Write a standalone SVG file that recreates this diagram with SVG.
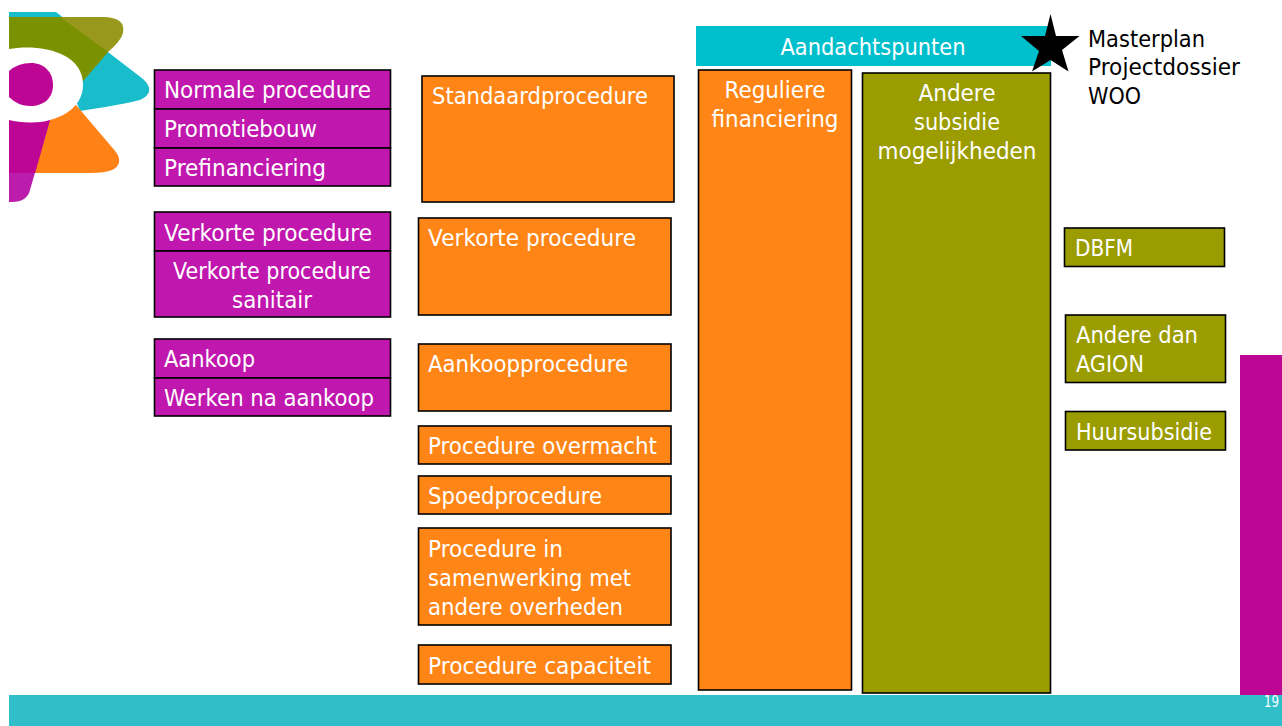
<svg xmlns="http://www.w3.org/2000/svg" width="1282" height="726" viewBox="0 0 1282 726">
<style>
text{font-family:"DejaVu Sans","Noto Sans",sans-serif;font-size:23px;fill:#fff}
.k{fill:#000}
.m{fill:#c017ae;stroke:#000;stroke-width:1.6}
.o{fill:#ff8516;stroke:#000;stroke-width:1.6}
.g{fill:#9a9c00;stroke:#000;stroke-width:1.6}
.c{text-anchor:middle}
</style>
<rect width="1282" height="726" fill="#fff"/>
<g id="logo">
<path d="M9 12H56L143 79Q157 92 140 100Q125 104 80 111L60 60L9 60Z" fill="#19bccb"/>
<path d="M76 105L116 152Q124 164 112 170Q105 173 90 173H33L40 120Z" fill="#ff8216"/>
<path d="M9 120H50L30 190Q27 202 12 202H9Z" fill="#bb1cac"/>
<path d="M9 120H50L35 173H9Z" fill="#bd0694"/>
<path d="M9 17H105Q126 18 123 33Q121 41 108 52L83 81L9 60Z" fill="#98991c"/>
<path d="M9 17H60L108 52L83 81L9 60Z" fill="#7a9200"/>
<path d="M9 49C36 44 83 50 83 85C83 110 55 123 30 122.500Q18 122 9 120Z" fill="#fff"/>
<path d="M9 71Q18 63 31 63C44 63 53 72 53 85C53 98 44 106 30 106Q18 106 9 97Z" fill="#bd0694"/>
</g>
<g id="right-band"><rect x="1240" y="355" width="42" height="341" fill="#bd0694"/></g>
<g id="footer"><rect x="9" y="695" width="1273" height="31" fill="#30bec8"/><text x="1264" y="707" style="font-size:15px" textLength="15" lengthAdjust="spacingAndGlyphs">19</text></g>
<g id="aandachtspunten"><rect x="696" y="26" width="355" height="40" fill="#00bfcd"/><text class="c" x="873" y="55" textLength="185" lengthAdjust="spacingAndGlyphs">Aandachtspunten</text></g>
<g id="normale-procedure"><rect class="m" x="154.500" y="70" width="236" height="39"/><text x="164" y="98" textLength="207" lengthAdjust="spacingAndGlyphs">Normale procedure</text></g>
<g id="promotiebouw"><rect class="m" x="154.500" y="109" width="236" height="39"/><text x="164" y="137" textLength="153" lengthAdjust="spacingAndGlyphs">Promotiebouw</text></g>
<g id="prefinanciering"><rect class="m" x="154.500" y="148" width="236" height="38"/><text x="164" y="176" textLength="162" lengthAdjust="spacingAndGlyphs">Prefinanciering</text></g>
<g id="verkorte-procedure"><rect class="m" x="154.500" y="212" width="236" height="39"/><text x="164" y="241" textLength="208" lengthAdjust="spacingAndGlyphs">Verkorte procedure</text></g>
<g id="verkorte-sanitair"><rect class="m" x="154.500" y="251" width="236" height="66"/><text class="c" x="272" y="279" textLength="198" lengthAdjust="spacingAndGlyphs">Verkorte procedure</text><text class="c" x="272" y="308" textLength="80" lengthAdjust="spacingAndGlyphs">sanitair</text></g>
<g id="aankoop"><rect class="m" x="154.500" y="339" width="236" height="39"/><text x="164" y="367" textLength="91" lengthAdjust="spacingAndGlyphs">Aankoop</text></g>
<g id="werken-na-aankoop"><rect class="m" x="154.500" y="378" width="236" height="38"/><text x="164" y="406" textLength="210" lengthAdjust="spacingAndGlyphs">Werken na aankoop</text></g>
<g id="standaardprocedure"><rect class="o" x="422" y="76" width="252" height="126"/><text x="432" y="104" textLength="216" lengthAdjust="spacingAndGlyphs">Standaardprocedure</text></g>
<g id="verkorte-procedure-2"><rect class="o" x="418.500" y="218" width="252.500" height="97"/><text x="428" y="246" textLength="208" lengthAdjust="spacingAndGlyphs">Verkorte procedure</text></g>
<g id="aankoopprocedure"><rect class="o" x="418.500" y="344" width="252.500" height="67"/><text x="428" y="372" textLength="200" lengthAdjust="spacingAndGlyphs">Aankoopprocedure</text></g>
<g id="procedure-overmacht"><rect class="o" x="418.500" y="426" width="252.500" height="38"/><text x="428" y="454" textLength="229" lengthAdjust="spacingAndGlyphs">Procedure overmacht</text></g>
<g id="spoedprocedure"><rect class="o" x="418.500" y="476" width="252.500" height="38"/><text x="428" y="504" textLength="174" lengthAdjust="spacingAndGlyphs">Spoedprocedure</text></g>
<g id="procedure-samenwerking"><rect class="o" x="418.500" y="528" width="252.500" height="97"/><text x="428" y="557" textLength="135" lengthAdjust="spacingAndGlyphs">Procedure in</text><text x="428" y="586" textLength="203" lengthAdjust="spacingAndGlyphs">samenwerking met</text><text x="428" y="615" textLength="195" lengthAdjust="spacingAndGlyphs">andere overheden</text></g>
<g id="procedure-capaciteit"><rect class="o" x="418.500" y="645" width="252.500" height="39"/><text x="428" y="674" textLength="223" lengthAdjust="spacingAndGlyphs">Procedure capaciteit</text></g>
<g id="reguliere-financiering"><rect class="o" x="698.500" y="70" width="153" height="620"/><text class="c" x="775" y="98" textLength="101" lengthAdjust="spacingAndGlyphs">Reguliere</text><text class="c" x="775" y="127" textLength="127" lengthAdjust="spacingAndGlyphs">financiering</text></g>
<g id="andere-subsidie"><rect class="g" x="862.500" y="73" width="188" height="620"/><text class="c" x="957" y="101" textLength="77" lengthAdjust="spacingAndGlyphs">Andere</text><text class="c" x="957" y="130" textLength="86" lengthAdjust="spacingAndGlyphs">subsidie</text><text class="c" x="957" y="159" textLength="159" lengthAdjust="spacingAndGlyphs">mogelijkheden</text></g>
<g id="star"><polygon points="1050.500,14 1056,36 1079.500,36 1062,50 1068.500,71.500 1050.500,60 1032,71.500 1039,51 1021,36 1045,36" fill="#000"/></g>
<g id="legend"><text class="k" x="1088" y="47" textLength="117" lengthAdjust="spacingAndGlyphs">Masterplan</text><text class="k" x="1088" y="75" textLength="152" lengthAdjust="spacingAndGlyphs">Projectdossier</text><text class="k" x="1088" y="104" textLength="53" lengthAdjust="spacingAndGlyphs">WOO</text></g>
<g id="dbfm"><rect class="g" x="1064.500" y="228" width="160" height="38.500"/><text x="1075" y="256" textLength="58" lengthAdjust="spacingAndGlyphs">DBFM</text></g>
<g id="andere-dan-agion"><rect class="g" x="1065.500" y="315" width="160" height="67.500"/><text x="1076" y="343" textLength="122" lengthAdjust="spacingAndGlyphs">Andere dan</text><text x="1076" y="372" textLength="68" lengthAdjust="spacingAndGlyphs">AGION</text></g>
<g id="huursubsidie"><rect class="g" x="1065.500" y="411.500" width="160" height="38.500"/><text x="1076" y="440" textLength="136" lengthAdjust="spacingAndGlyphs">Huursubsidie</text></g>
</svg>
